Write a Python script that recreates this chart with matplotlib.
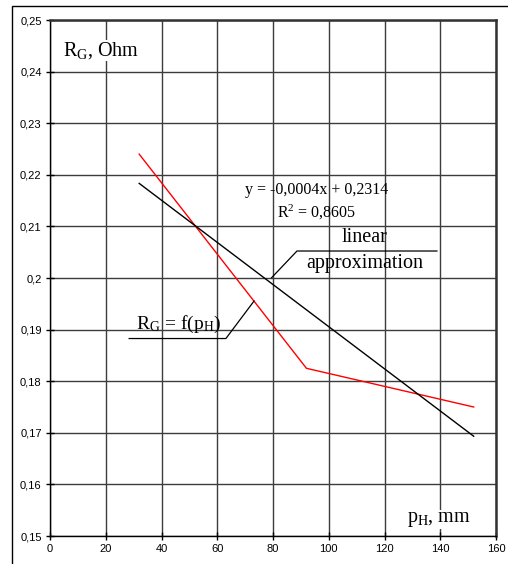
import matplotlib

matplotlib.use("Agg")

import matplotlib.pyplot as plt
import numpy as np
from matplotlib.patches import Rectangle
from matplotlib.ticker import FuncFormatter

# Measured resistance vs. pressure
p_h = [32, 92, 152]
r_g = [0.2240, 0.1825, 0.1750]

x_ticks = [0, 20, 40, 60, 80, 100, 120, 140, 160]
y_ticks = [0.15, 0.16, 0.17, 0.18, 0.19, 0.20, 0.21, 0.22, 0.23, 0.24, 0.25]

eq_text = "y = -0,0004x + 0,2314"
r2_text = "R$^2$ = 0,8605"

plt.rcParams["mathtext.fontset"] = "custom"
plt.rcParams["mathtext.rm"] = "Liberation Serif"
plt.rcParams["mathtext.it"] = "Liberation Serif:italic"

_SERIF = "Liberation Serif"
_SANS = "Liberation Sans"
_GRID = "#3c3c3c"


def _comma(v, _):
    # decimal comma, trailing zeros dropped (0,2 rather than 0,20)
    return f"{v:.2f}".rstrip("0").replace(".", ",")


fig = plt.figure(figsize=(5.08, 5.64), dpi=100)
ax = fig.add_axes([50 / 508, 1 - 536 / 564, 446 / 508, 516 / 564])

# outer chart frame
fig.patches.append(Rectangle((12 / 508, -0.1), 1.2, 1.1 - 6 / 564,
                             transform=fig.transFigure, fill=False,
                             edgecolor="black", linewidth=1.0))

ax.set_xlim(0, 160)
ax.set_ylim(0.15, 0.25)
ax.set_xticks(x_ticks)
ax.set_yticks(y_ticks)
ax.yaxis.set_major_formatter(FuncFormatter(_comma))
ax.xaxis.set_major_formatter(FuncFormatter(lambda v, _: f"{v:.0f}"))
ax.tick_params(direction="inout", length=6, width=1, labelsize=8,
               colors="black", pad=3)
for lbl in ax.get_xticklabels() + ax.get_yticklabels():
    lbl.set_family(_SANS)

ax.grid(True, color=_GRID, linewidth=1.0)
ax.set_axisbelow(True)
for side in ("left", "bottom"):
    ax.spines[side].set_color("black")
    ax.spines[side].set_linewidth(1.0)
for side in ("top", "right"):
    ax.spines[side].set_color("#333333")
    ax.spines[side].set_linewidth(1.8)

# data and linear fit
ax.plot(p_h, r_g, color="red", linewidth=1.0, zorder=3)
slope, intercept = np.polyfit(p_h, r_g, 1)
fit_x = np.array([p_h[0], p_h[-1]])
ax.plot(fit_x, slope * fit_x + intercept, color="black", linewidth=1.0, zorder=3)

# axis captions
ax.text(4.7, 0.2432, r"R$_{\mathrm{G}}$, Ohm", family=_SERIF, fontsize=14.5,
        va="baseline", ha="left", zorder=4,
        bbox=dict(facecolor="white", edgecolor="none", pad=0))
ax.text(128.1, 0.15277, r"p$_{\mathrm{H}}$, mm", family=_SERIF, fontsize=14.5,
        va="baseline", ha="left", zorder=4,
        bbox=dict(facecolor="white", edgecolor="none", pad=0))

# trend equation
ax.text(95.6, 0.21628, eq_text, family=_SERIF, fontsize=11.5,
        ha="center", va="baseline", zorder=4)
ax.text(95.6, 0.21176, r2_text, family=_SERIF, fontsize=11.5,
        ha="center", va="baseline", zorder=4)

# callout for the fitted line
ax.text(113.0, 0.20704, "linear", family=_SERIF, fontsize=14.5,
        ha="center", va="baseline", zorder=4)
ax.text(113.0, 0.2020, "approximation", family=_SERIF, fontsize=14.5,
        ha="center", va="baseline", zorder=4)
ax.plot([138.8, 88.6, 79.5], [0.20523, 0.20523, 0.20006],
        color="black", linewidth=0.9, zorder=4)

# callout for the measured curve
ax.text(30.9, 0.19006, r"R$_{\mathrm{G}}$ = f(p$_{\mathrm{H}}$)", family=_SERIF,
        fontsize=14, ha="left", va="baseline", zorder=4)
ax.plot([28.4, 63.1, 73.2], [0.18827, 0.18827, 0.19554],
        color="black", linewidth=0.9, zorder=4)

fig.savefig("out.png", dpi=100, facecolor="white")
